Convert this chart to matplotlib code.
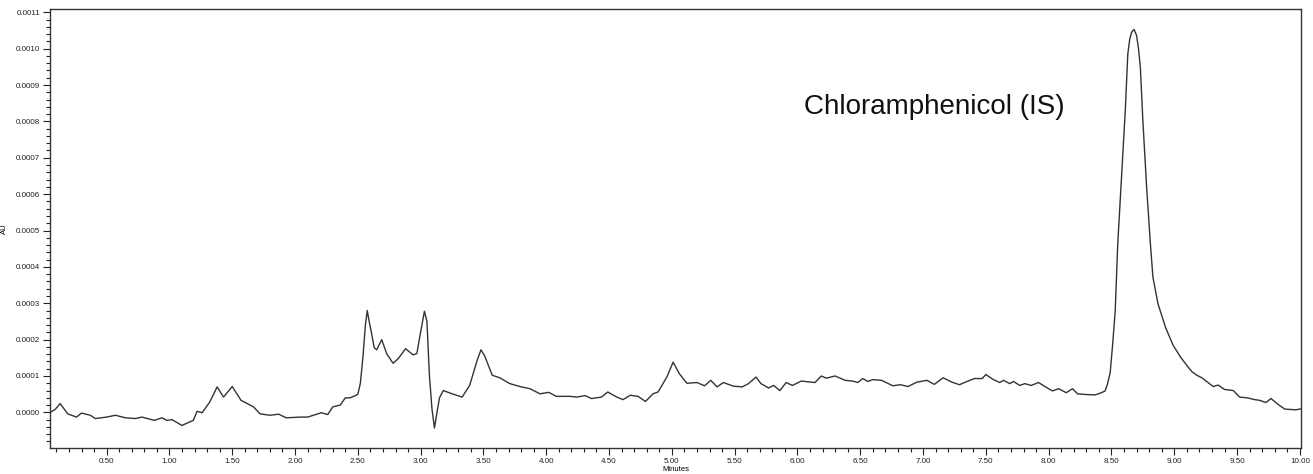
import numpy as np
import matplotlib
matplotlib.use('Agg')
import matplotlib.pyplot as plt
from matplotlib.ticker import MultipleLocator, FormatStrFormatter

# 色谱数据 (时间 min, 吸光度 x1e-4 AU)
time_min = [
    0.05, 0.09, 0.13, 0.19, 0.26, 0.30, 0.37, 0.41, 0.50, 0.57,
    0.65, 0.73, 0.78, 0.88, 0.94, 0.98, 1.02, 1.10, 1.15, 1.19,
    1.22, 1.26, 1.32, 1.38, 1.43, 1.50, 1.57, 1.67, 1.72, 1.80,
    1.87, 1.93, 2.04, 2.10, 2.21, 2.26, 2.30, 2.36, 2.40, 2.44,
    2.48, 2.50, 2.52, 2.54, 2.56, 2.575, 2.59, 2.61, 2.63, 2.65,
    2.69, 2.73, 2.78, 2.82, 2.88, 2.94, 2.97, 2.99, 3.03, 3.05,
    3.07, 3.09, 3.11, 3.13, 3.15, 3.18, 3.25, 3.33, 3.39, 3.45,
    3.48, 3.51, 3.57, 3.63, 3.71, 3.79, 3.87, 3.95, 4.02, 4.08,
    4.19, 4.24, 4.31, 4.36, 4.44, 4.49, 4.55, 4.61, 4.67, 4.73,
    4.79, 4.85, 4.89, 4.96, 5.01, 5.06, 5.12, 5.20, 5.26, 5.31,
    5.36, 5.41, 5.49, 5.56, 5.61, 5.67, 5.71, 5.77, 5.81, 5.86,
    5.91, 5.96, 6.03, 6.14, 6.19, 6.23, 6.30, 6.38, 6.44, 6.48,
    6.52, 6.56, 6.60, 6.67, 6.76, 6.82, 6.88, 6.95, 7.03, 7.09,
    7.16, 7.23, 7.29, 7.35, 7.41, 7.47, 7.50, 7.56, 7.61, 7.64,
    7.69, 7.72, 7.77, 7.81, 7.86, 7.92, 7.97, 8.03, 8.08, 8.14,
    8.19, 8.23, 8.30, 8.37, 8.42, 8.45, 8.47, 8.49, 8.51, 8.53,
    8.55, 8.58, 8.61, 8.63, 8.645, 8.66, 8.68, 8.70, 8.715, 8.73,
    8.75, 8.78, 8.81, 8.83, 8.87, 8.93, 8.99, 9.05, 9.10, 9.14,
    9.18, 9.22, 9.31, 9.35, 9.40, 9.47, 9.52, 9.58, 9.64, 9.68,
    9.73, 9.77, 9.83, 9.88, 9.97, 10.01,
]
absorb_e4 = [
    0.00, 0.08, 0.24, -0.04, -0.13, -0.02, -0.08, -0.17, -0.13, -0.08,
    -0.15, -0.17, -0.13, -0.22, -0.15, -0.22, -0.20, -0.36, -0.28, -0.22,
    0.03, -0.01, 0.28, 0.70, 0.42, 0.71, 0.33, 0.15, -0.04, -0.08,
    -0.05, -0.15, -0.13, -0.13, -0.01, -0.06, 0.15, 0.20, 0.40, 0.40,
    0.46, 0.50, 0.80, 1.50, 2.40, 2.80, 2.50, 2.16, 1.78, 1.72,
    2.00, 1.61, 1.35, 1.47, 1.75, 1.58, 1.62, 2.02, 2.78, 2.50,
    1.00, 0.10, -0.43, 0.00, 0.40, 0.60, 0.51, 0.42, 0.74, 1.43,
    1.72, 1.55, 1.02, 0.95, 0.79, 0.71, 0.65, 0.51, 0.55, 0.44,
    0.44, 0.42, 0.46, 0.38, 0.42, 0.56, 0.44, 0.35, 0.47, 0.44,
    0.30, 0.51, 0.56, 0.97, 1.38, 1.06, 0.80, 0.82, 0.73, 0.88,
    0.70, 0.82, 0.72, 0.70, 0.79, 0.97, 0.79, 0.67, 0.74, 0.60,
    0.82, 0.74, 0.86, 0.82, 1.00, 0.94, 1.00, 0.88, 0.86, 0.82,
    0.93, 0.85, 0.90, 0.88, 0.73, 0.76, 0.71, 0.83, 0.88, 0.77,
    0.95, 0.83, 0.76, 0.85, 0.93, 0.93, 1.04, 0.90, 0.82, 0.88,
    0.79, 0.85, 0.74, 0.79, 0.74, 0.82, 0.71, 0.59, 0.65, 0.54,
    0.65, 0.51, 0.49, 0.48, 0.54, 0.59, 0.80, 1.10, 1.89, 2.80,
    4.63, 6.46, 8.30, 9.85, 10.25, 10.45, 10.53, 10.36, 10.00, 9.49,
    8.02, 6.19, 4.63, 3.72, 2.99, 2.34, 1.85, 1.52, 1.29, 1.12,
    1.02, 0.95, 0.71, 0.75, 0.63, 0.60, 0.42, 0.40, 0.35, 0.33,
    0.27, 0.38, 0.21, 0.09, 0.07, 0.10,
]
peak_label = 'Chloramphenicol (IS)'

t = np.array(time_min)
au = np.array(absorb_e4) * 1e-4

plt.rcParams['font.family'] = ['Liberation Sans', 'DejaVu Sans']

fig = plt.figure(figsize=(13.13, 4.74), dpi=100)
ax = fig.add_axes([50 / 1313, 26 / 474, 1251 / 1313, 439 / 474])

ax.plot(t, au, color='#333333', linewidth=1.0)

ax.set_xlim(0.049, 10.009)
ax.set_ylim(-0.98e-4, 11.09e-4)

ax.xaxis.set_major_locator(MultipleLocator(0.5))
ax.xaxis.set_minor_locator(MultipleLocator(0.1))
ax.xaxis.set_major_formatter(FormatStrFormatter('%.2f'))
ax.yaxis.set_major_locator(MultipleLocator(1e-4))
ax.yaxis.set_minor_locator(MultipleLocator(2e-5))
ax.yaxis.set_major_formatter(FormatStrFormatter('%.4f'))

ax.tick_params(which='major', direction='out', length=5, width=0.8,
               labelsize=5.8, pad=2, colors='#222222')
ax.tick_params(which='minor', direction='out', length=3, width=0.8,
               colors='#222222')

for s in ax.spines.values():
    s.set_linewidth(1.0)
    s.set_color('#333333')

ax.set_xlabel('Minutes', fontsize=5.5, labelpad=1)
ax.set_ylabel('AU', fontsize=5.5, labelpad=6)

ax.text(8.13, 0.00082, peak_label, fontsize=20, ha='right', va='baseline',
        color='#111111')

fig.savefig('out.png', dpi=100)
